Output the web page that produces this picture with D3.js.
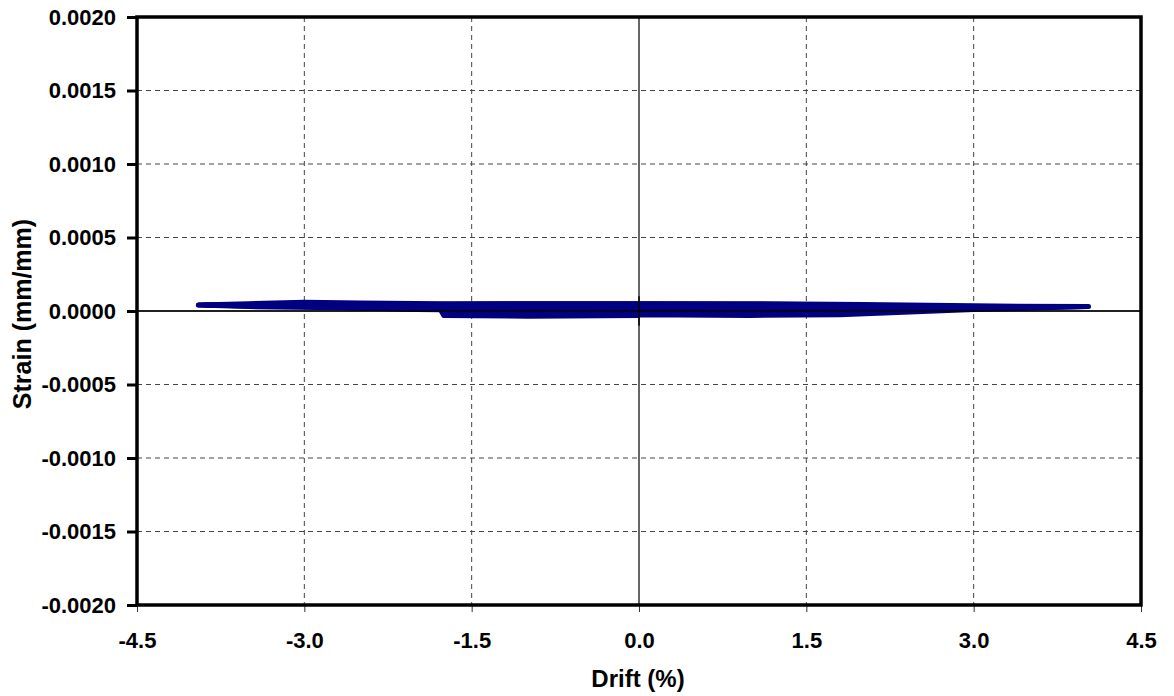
<!DOCTYPE html>
<html><head><meta charset="utf-8">
<script src="https://cdn.jsdelivr.net/npm/d3@7"></script>
<style>body{margin:0;background:#fff}svg{display:block}text{font-family:"Liberation Sans",Arial,sans-serif;font-weight:bold}</style>
</head><body>
<svg id="c" width="1174" height="696"></svg>
<script>
const xTicks = [-4.5, -3.0, -1.5, 0.0, 1.5, 3.0, 4.5];
const yTicks = [-0.0020, -0.0015, -0.0010, -0.0005, 0.0000, 0.0005, 0.0010, 0.0015, 0.0020];

const cycle1Drift  = [0, 1.0, 0, -1.0, 0];
const cycle1Strain = [0.000005, 0.000025, 0.000025, 0.000025, 0.000005];
const cycle2Drift  = [0, 1.75, 1.0, 0, -1.0, -1.75, -1.73, -1.0, 0];
const cycle2Strain = [-0.000015, 0.000005, 0.000045, 0.000045, 0.000045, 0.00004, -0.00002, -0.000025, -0.000015];
const cycle3Drift  = [0, 1.0, 2.5, 1.5, 0, -1.0, -2.5, -2.0, -1.76, -1.74, -1.0, 0];
const cycle3Strain = [-0.000015, -0.000015, 0.00001, 0.000045, 0.00005, 0.00005, 0.00004, 0.00002, 0.000015, -0.00003, -0.00003, -0.000025];
const cycle4Drift  = [0, 1.0, 1.8, 3.0, 4.03, 3.0, 2.0, 1.0, 0, -1.0, -1.75, -2.5, -3.0, -3.5, -3.95, -3.0, -2.5, -1.78, -1.75, -1.0, 0];
const cycle4Strain = [-0.000025, -0.00003, -0.000025, 0.00001, 0.00003, 0.000035, 0.000045, 0.00005, 0.00005, 0.00005, 0.00005, 0.000055, 0.00006, 0.00005, 0.00004, 0.00003, 0.00002, 0.00001, -0.00003, -0.000035, -0.00003];
const cycle5Drift  = [0, 1.0, 2.0, 3.0, 4.0, 3.0, 2.0, 1.0, 0, -1.0, -2.0, -3.0, -3.9, -3.0, -2.0, -1.77, -1.75, -1.0, 0];
const cycle5Strain = [-0.00001, -0.00001, 0.0, 0.000015, 0.00003, 0.000025, 0.000025, 0.00003, 0.00003, 0.00003, 0.000035, 0.000045, 0.00004, 0.00003, 0.00001, 0.000008, -0.00001, -0.00001, -0.00001];
const cycle6Drift  = [-1.7, -1.0, 0, 1.0, 1.8, 2.6, 1.8, 1.0, 0, -1.0, -1.7];
const cycle6Strain = [0.000015, 0.000015, 0.00001, 0.000015, 0.00002, 0.000025, 0.000035, 0.000035, 0.000035, 0.000035, 0.00003];
const cycle7Drift  = [-1.74, -1.0, 0, 1.0, 2.0, 2.8, 2.0, 1.0, 0, -1.0, -1.74];
const cycle7Strain = [-0.00002, -0.00002, -0.00001, -0.00001, 0.0, 0.00001, 0.00001, 0.000005, 0.0, -0.000005, -0.00001];
const cycle8Drift  = [-1.75, -2.5, -3.5, -3.95, -3.5, -2.5, -1.75];
const cycle8Strain = [0.00003, 0.00004, 0.000045, 0.00004, 0.00003, 0.00002, 0.000015];

const cycles = [
  [cycle1Drift, cycle1Strain],
  [cycle2Drift, cycle2Strain],
  [cycle3Drift, cycle3Strain],
  [cycle4Drift, cycle4Strain],
  [cycle5Drift, cycle5Strain],
  [cycle6Drift, cycle6Strain],
  [cycle7Drift, cycle7Strain],
  [cycle8Drift, cycle8Strain]
];

const L = 137, R = 1141, T = 17, B = 605;
const svg = d3.select("#c");
const x = d3.scaleLinear().domain([-4.5, 4.5]).range([L, R]);
const y = d3.scaleLinear().domain([-0.002, 0.002]).range([B, T]);
const hy = s => s.replace("\u2212", "-");

// gridlines
const g = svg.append("g");
g.selectAll("line.vx").data(xTicks.filter(d => d !== 0 && Math.abs(d) !== 4.5)).enter().append("line")
  .attr("x1", d => x(d)).attr("x2", d => x(d)).attr("y1", T).attr("y2", B)
  .attr("stroke", "#444").attr("stroke-width", 1).attr("stroke-dasharray", "5,4");
g.selectAll("line.hy").data(yTicks.filter(d => d !== 0 && Math.abs(d) !== 0.002)).enter().append("line")
  .attr("x1", L).attr("x2", R).attr("y1", d => y(d)).attr("y2", d => y(d))
  .attr("stroke", "#444").attr("stroke-width", 1).attr("stroke-dasharray", "5,4");
// zero lines
svg.append("line").attr("x1", x(0)).attr("x2", x(0)).attr("y1", T).attr("y2", B).attr("stroke", "#000").attr("stroke-width", 1.2);
svg.append("line").attr("x1", L).attr("x2", R).attr("y1", y(0)).attr("y2", y(0)).attr("stroke", "#000").attr("stroke-width", 1.2);

// data
const line = d3.line().x(d => x(d[0])).y(d => y(d[1]));
cycles.forEach(([dr, st]) => {
  svg.append("path").datum(dr.map((v, i) => [v, st[i]]))
    .attr("d", line).attr("fill", "none").attr("stroke", "#000080")
    .attr("stroke-width", 5).attr("stroke-linejoin", "round").attr("stroke-linecap", "round");
});
// zero lines visible through the band
svg.append("line").attr("x1", L).attr("x2", R).attr("y1", y(0)).attr("y2", y(0)).attr("stroke", "#000").attr("stroke-width", 1.5);
svg.append("line").attr("x1", x(0)).attr("x2", x(0)).attr("y1", y(0.0001)).attr("y2", y(-0.0001)).attr("stroke", "#000").attr("stroke-width", 1.5);

// axes
const yAxis = d3.axisLeft(y).tickValues(yTicks).tickFormat(d => hy(d3.format(".4f")(d))).tickSize(10).tickPadding(11);
const ya = svg.append("g").attr("transform", `translate(${L},0)`).call(yAxis);
ya.select(".domain").remove();
ya.selectAll(".tick line").attr("stroke", "#000").attr("stroke-width", 3);
ya.selectAll(".tick text").attr("font-size", 22).attr("font-family", "Liberation Sans, Arial, sans-serif").attr("font-weight", "bold").attr("fill", "#000");

const xAxis = d3.axisBottom(x).tickValues(xTicks).tickFormat(d => hy(d3.format(".1f")(d))).tickSize(7).tickPadding(20);
const xa = svg.append("g").attr("transform", `translate(0,${B})`).call(xAxis);
xa.select(".domain").remove();
xa.selectAll(".tick line").attr("stroke", "#333").attr("stroke-width", 1);
xa.selectAll(".tick text").attr("font-size", 22).attr("font-family", "Liberation Sans, Arial, sans-serif").attr("font-weight", "bold").attr("fill", "#000");

// frame
svg.append("rect").attr("x", L).attr("y", T).attr("width", R - L).attr("height", B - T)
  .attr("fill", "none").attr("stroke", "#000").attr("stroke-width", 3.5);

// titles
svg.append("text").attr("x", 638).attr("y", 687).attr("text-anchor", "middle").attr("font-size", 24).text("Drift (%)");
svg.append("text").attr("transform", `translate(31,314) rotate(-90)`).attr("text-anchor", "middle").attr("font-size", 25).text("Strain (mm/mm)");
</script>
</body></html>
